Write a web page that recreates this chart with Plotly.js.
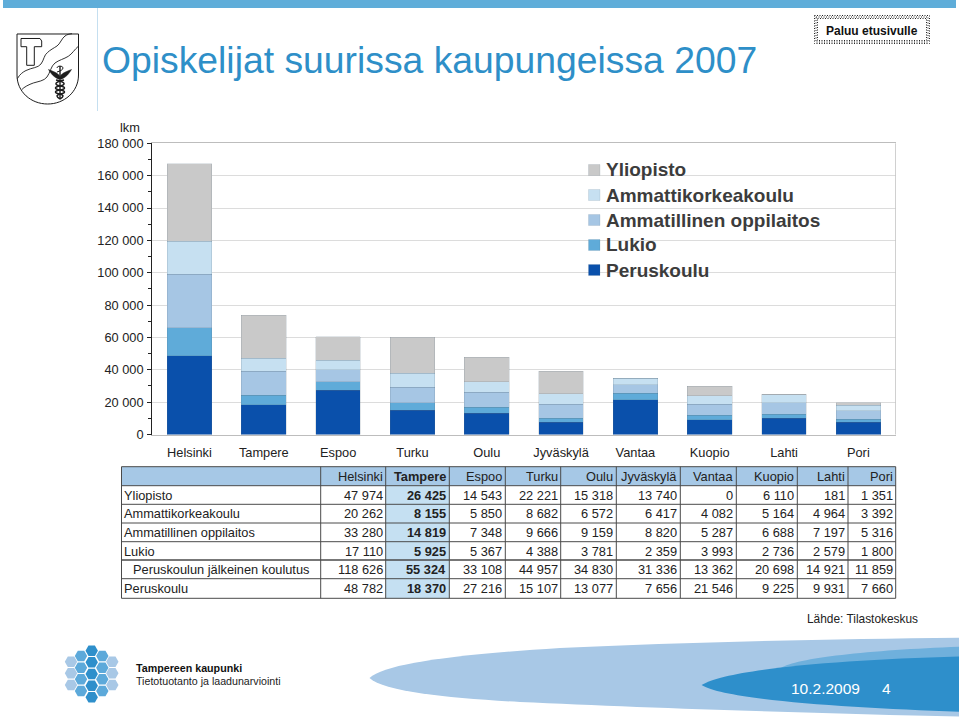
<!DOCTYPE html>
<html><head><meta charset="utf-8">
<script src="https://cdn.plot.ly/plotly-3.0.1.min.js"></script>
<style>html,body{margin:0;padding:0;background:#fff}#c{width:959px;height:718px}</style>
</head><body><div id="c"></div>
<script>
const W=959,H=718;
const cities=['Helsinki','Tampere','Espoo','Turku','Oulu','Jyväskylä','Vantaa','Kuopio','Lahti','Pori'];
const yliopisto=[47974,26425,14543,22221,15318,13740,0,6110,181,1351];
const ammattikorkeakoulu=[20262,8155,5850,8682,6572,6417,4082,5164,4964,3392];
const ammatillinen=[33280,14819,7348,9666,9159,8820,5287,6688,7197,5316];
const lukio=[17110,5925,5367,4388,3781,2359,3993,2736,2579,1800];
const jalkeinen=[118626,55324,33108,44957,34830,31336,13362,20698,14921,11859];
const peruskoulu=[48782,18370,27216,15107,13077,7656,21546,9225,9931,7660];
const seriesNames=['Peruskoulu','Lukio','Ammatillinen oppilaitos','Ammattikorkeakoulu','Yliopisto'];
const seriesColors=['#0a50ab','#5fabd9','#a6c6e4','#c6e0f1','#c9c9c9'];
const seriesValues=[peruskoulu,lukio,ammatillinen,ammattikorkeakoulu,yliopisto];
const rowLabels=['Yliopisto','Ammattikorkeakoulu','Ammatillinen oppilaitos','Lukio','Peruskoulun jälkeinen koulutus','Peruskoulu'];
const rowValues=[yliopisto,ammattikorkeakoulu,ammatillinen,lukio,jalkeinen,peruskoulu];
const colEdges=[121.5,320.7,385.7,449.3,505.3,560.7,616.3,680.3,736.3,797.3,848,895.7];
const rowEdges=[466.7,485.7,504.3,523,541.7,560,578.7,598.3];

const FONT='"Liberation Sans", Arial, sans-serif';
const px=x=>x/W, py=y=>1-y/H;
const fmt=n=>String(n).replace(/\B(?=(\d{3})+$)/g,' ');
function P(str){return str.replace(/(-?[\d.]+),(-?[\d.]+)/g,(m,a,b)=>px(+a).toFixed(5)+','+py(+b).toFixed(5));}
function shapePath(d,fill,line,w,layer){return {type:'path',xref:'paper',yref:'paper',path:P(d),fillcolor:fill||'rgba(0,0,0,0)',line:{color:line||'rgba(0,0,0,0)',width:w||0},layer:layer||'above'};}
function rect(x0,y0,x1,y1,fill,line,w,dash,layer){return {type:'rect',xref:'paper',yref:'paper',x0:px(x0),x1:px(x1),y0:py(y0),y1:py(y1),fillcolor:fill||'rgba(0,0,0,0)',line:{color:line||'rgba(0,0,0,0)',width:w||0,dash:dash||'solid'},layer:layer||'above'};}
function seg(x0,y0,x1,y1,color,w){return {type:'line',xref:'paper',yref:'paper',x0:px(x0),x1:px(x1),y0:py(y0),y1:py(y1),line:{color:color,width:w},layer:'above'};}
function label(t,x,y,size,color,anchor,weight){return {text:t,xref:'paper',yref:'paper',x:px(x),y:py(y),xanchor:anchor||'left',yanchor:'middle',showarrow:false,borderpad:0,font:{family:FONT,size:size,color:color||'#222',weight:weight||400}};}

const shapes=[], annotations=[];
// header furniture
shapes.push(rect(3,0,956,8,'#5fadd9'));
shapes.push(rect(97,8,98,111,'#c5dff0'));
annotations.push(label('Opiskelijat suurissa kaupungeissa 2007',101,60,37.3,'#2e8fc8'));
shapes.push(rect(814.5,15.5,929.5,43.5,null,'#222',1,'1px,1.5px'));
shapes.push(rect(816,17,928,42,null,'#222',1,'1px,1.5px'));
shapes.push(rect(817.5,18.5,926.5,40.5,'#fff','#222',1,'1px,1.5px'));
annotations.push(label('Paluu etusivulle',872,30.5,12,'#111','center',700));
// coat of arms
const k='#1c1c1c';
shapes.push(shapePath('M17,34 L78.5,34 L78.5,75 C78.5,92 64,104 47.7,104 C31,104 17,92 17,75 Z','#fff',k,1));
shapes.push(shapePath('M21,38.5 L40,38.5 L41.7,41 L41.7,46.7 L34.3,46.7 L34.3,65.3 L26.7,65.3 L26.7,46.7 L21,46.7 Z','#fff',k,1));
shapes.push(shapePath('M17.3,78.7 C20,74 23,72 26,70.5 C32,67.5 38,68 41,64 C44,60 44,55 47.5,52.5 C50,50 54,48 57,46 C60,44 62,38 65,36 C67,34.5 69,34 72,33.7','',k,0.9));
shapes.push(shapePath('M21.7,89.7 C24,87 29,84.5 33.3,83 C38,81.5 44,81 47,77 C50,73 51,66 55,63 C59,60 64,59 68.3,56.3 C72,54 75,49 78.3,46.3','',k,0.9));
// caduceus
shapes.push(shapePath('M60,66 L60,99','',k,1.4));
shapes.push(shapePath('M48.5,69.5 C52,71 56,72 59,75 L60,77 L61,75 C64,72 68,71 71.5,69.5 C69,74 66,77 62,79 L58,79 C54,77 51,74 48.5,69.5 Z',k,k,0.5));
shapes.push(shapePath('M57,68 C57,65.5 63,65.5 63,68 C63,70 60,71 57,72','',k,1));
shapes.push(shapePath('M64,80 C54,82 54,85 60,86 C66,87 66,89 60,90 C54,91 54,93 60,94 C64,95 64,97 60,99','',k,1.5));
shapes.push(shapePath('M56,80 C66,82 66,85 60,86 C54,87 54,89 60,90 C66,91 66,93 60,94 C56,95 56,97 60,99','',k,1.5));
// footer waves
shapes.push(shapePath('M369.5,678 C385,664 450,655 560,648 C680,642 830,639 959,637.7 L959,716.5 C830,714 650,708 520,702 C450,698 385,692 369.5,678 Z','#a8c8e6'));
shapes.push(shapePath('M781,668 C795,658 870,650 959,646.7 L959,670 L781,670 Z','#6fb0dc'));
shapes.push(shapePath('M701.6,685 C725,670 830,660 959,656.5 L959,711.7 C850,708 725,700 701.6,685 Z','#2e8fcb'));
annotations.push(label('10.2.2009',790,688,15.5,'#fff'));
annotations.push(label('4',881,688,15.5,'#fff'));
// hexagon emblem
const hexCols=[[71,[661.7,673.3,685],'#a8c8e6'],[81,[656,667.7,679.3,691],'#5ca9da'],[91.7,[650.7,662.3,674,685.7,697.3],'#2e8fcb'],[102.3,[656,667.7,679.3,691],'#5ca9da'],[112.3,[661.7,673.3,685],'#a8c8e6']];
hexCols.forEach(([cx,ys,col])=>ys.forEach(cy=>{
  shapes.push(shapePath(`M${cx-6.2},${cy} L${cx-3.2},${cy-5.3} L${cx+3.2},${cy-5.3} L${cx+6.2},${cy} L${cx+3.2},${cy+5.3} L${cx-3.2},${cy+5.3} Z`,col));
}));
annotations.push(label('Tampereen kaupunki',134.5,667.5,10.7,'#111','left',700));
annotations.push(label('Tietotuotanto ja laadunarviointi',134.5,681,10.65,'#222'));
annotations.push(label('Lähde: Tilastokeskus',806,618.5,11.9,'#222'));
annotations.push(label('lkm',140.5,127,12.8,'#222','right'));
// legend
shapes.push(rect(560,150,845,298,'#fff',null,0,null,'between'));
shapes.push(rect(895,143.3,895.8,434.5,'#c4c4c4'));
[4,3,2,1,0].forEach((s,i)=>{
  const y=170+i*25;
  shapes.push(rect(588.5,y-5.5,600,y+5.5,seriesColors[s],'rgba(90,110,130,0.25)',0.6));
  annotations.push(label(seriesNames[s],605,y,19,'#3c3c3c','left',700));
});
// data table
const nC=colEdges.length-1, L=colEdges[0], R=colEdges[nC], T=rowEdges[0], B=rowEdges[rowEdges.length-1];
shapes.push(rect(L,T,R,rowEdges[1],'#a6c8e6'));
shapes.push(rect(colEdges[2],rowEdges[1],colEdges[3],B,'#c5e0f2'));
colEdges.forEach(x=>shapes.push(seg(x,T,x,B,'#4a4a4a',1)));
rowEdges.forEach((y,i)=>shapes.push(seg(L,y,R,y,'#4a4a4a',i===5?1.6:1)));
const mid=i=>(rowEdges[i]+rowEdges[i+1])/2+0.3;
cities.forEach((c,j)=>{
  const xr=colEdges[j+2]-2;
  annotations.push(label(c,xr,mid(0),12.8,'#222','right',j===1?700:400));
  rowValues.forEach((r,i)=>annotations.push(label(fmt(r[j]),xr,mid(i+1),12.8,'#222','right',j===1?700:400)));
});
rowLabels.forEach((t,i)=>annotations.push(label(t,i===4?131.5:123,mid(i+1),12.8,'#222')));

const bars=seriesNames.map((n,i)=>({type:'bar',name:n,x:cities,y:seriesValues[i],
  marker:{color:seriesColors[i],line:{color:'rgba(90,110,130,0.3)',width:0.6}},hoverinfo:'x+y+name'}));

const layout={width:W,height:H,margin:{l:0,r:0,t:0,b:0,pad:0},paper_bgcolor:'#fff',plot_bgcolor:'#fff',
  barmode:'stack',bargap:0.4,showlegend:false,separators:'. ',font:{family:FONT,size:12.8,color:'#222'},
  xaxis:{domain:[px(152.3),px(895.5)],type:'category',categoryorder:'array',categoryarray:cities,showgrid:false,showline:true,mirror:true,linecolor:'#bdbdbd',linewidth:1,ticks:'',ticklabelstandoff:6,tickfont:{family:FONT,size:12.8,color:'#222'},fixedrange:true},
  yaxis:{domain:[py(434.5),py(143.3)],range:[0,180000],tick0:0,dtick:20000,tickformat:',d',showgrid:true,gridcolor:'#dcdcdc',gridwidth:1.2,zeroline:false,showline:true,linecolor:'#222',linewidth:1.3,ticks:'outside',ticklen:4,tickwidth:1.2,tickcolor:'#222',ticklabelstandoff:1,minor:{dtick:10000,ticks:'outside',ticklen:3,tickwidth:1.2,tickcolor:'#222',showgrid:false},tickfont:{family:FONT,size:12.8,color:'#222'},fixedrange:true},
  shapes:shapes,annotations:annotations};
Plotly.newPlot('c',bars,layout,{displayModeBar:false});
</script></body></html>
